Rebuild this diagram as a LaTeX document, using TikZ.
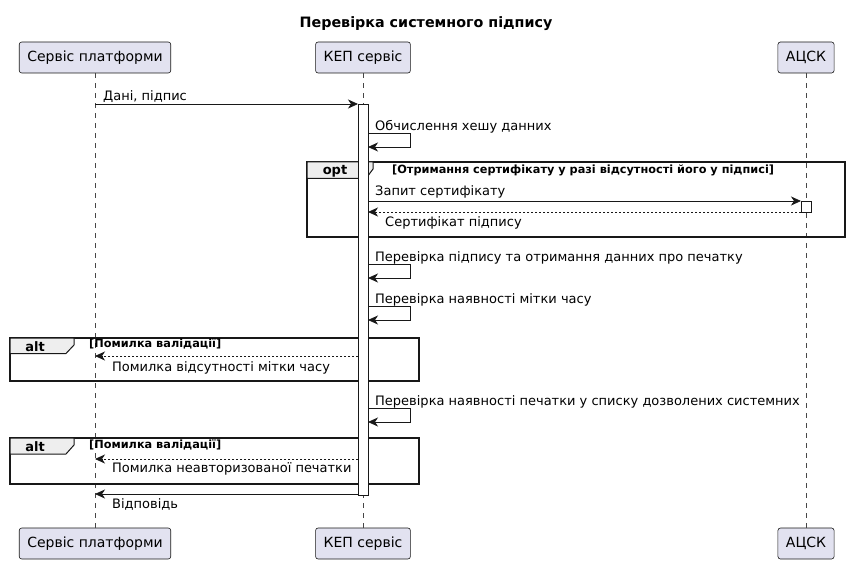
\documentclass[tikz,border=0pt]{standalone}
\usepackage{fontspec}
\setmainfont{DejaVu Sans}
\usepackage{tikz}
\usetikzlibrary{arrows.meta,shapes,positioning,calc}
\usepackage{xcolor}
\definecolor{umlpart}{RGB}{226,226,240}
\definecolor{umlline}{RGB}{24,24,24}
\definecolor{umlgroup}{RGB}{238,238,238}
\tikzstyle{participant} = [draw=umlline, fill=umlpart, rounded corners=2.5pt, minimum height=31pt, inner xsep=8pt, line width=0.6pt, font=\fontsize{14}{16}\selectfont]
\tikzstyle{msg} = [-{Stealth[length=10pt,width=9pt,inset=3pt]}, color=umlline, line width=0.8pt]
\tikzstyle{reply} = [msg, dash pattern=on 2pt off 2pt]
\tikzstyle{lifeline} = [umlline!80, dash pattern=on 5pt off 5pt, line width=0.5pt]
\tikzstyle{msgtext} = [anchor=west, inner sep=0pt, text height=10pt, text depth=3pt, font=\fontsize{13}{15}\selectfont]
\tikzstyle{frame} = [draw=umlline, line width=1.5pt]
\tikzstyle{tab} = [draw=umlline, fill=umlgroup, line width=1pt]
\tikzstyle{grouptext} = [anchor=west, inner sep=0pt, text height=8pt, text depth=2.5pt, font=\fontsize{11.3}{13}\selectfont\bfseries]
\tikzstyle{activation} = [draw=umlline, fill=white, line width=0.8pt]

\begin{document}
\begin{tikzpicture}[x=1pt, y=-1pt]
    \useasboundingbox (0,0) rectangle (848,564);

    % Title
    \node[font=\fontsize{14.3}{16}\selectfont\bfseries] (title) at (426,24) {Перевірка системного підпису};

    % Participants
    \node[participant] (pl-top) at (95,57.5) {Сервіс платформи};
    \node[participant] (kep-top) at (363,57.5) {КЕП сервіс};
    \node[participant] (acsk-top) at (806,57.5) {АЦСК};
    \node[participant] (pl-bot) at (95,543.5) {Сервіс платформи};
    \node[participant] (kep-bot) at (363,543.5) {КЕП сервіс};
    \node[participant] (acsk-bot) at (806,543.5) {АЦСК};

    % Lifelines
    \draw[lifeline] (pl-top.south) -- (pl-bot.north);
    \draw[lifeline] (kep-top.south) -- (kep-bot.north);
    \draw[lifeline] (acsk-top.south) -- (acsk-bot.north);

    % Groups
    \draw[frame] (307,162) rectangle (845,237);
    \draw[tab] (307,162) -- (373,162) -- (373,169) -- (366,178.5) -- (307,178.5) -- cycle;
    \node[font=\fontsize{13}{15}\selectfont\bfseries] (opt) at (335,171) {opt};
    \node[grouptext] (opt-guard) at (392,170.5) {[Отримання сертифікату у разі відсутності його у підписі]};

    \draw[frame] (10,338) rectangle (419,381);
    \draw[tab] (10,338) -- (74,338) -- (74,345) -- (66,353.5) -- (10,353.5) -- cycle;
    \node[font=\fontsize{13}{15}\selectfont\bfseries] (alt-1) at (35,346.5) {alt};
    \node[grouptext] (alt-1-guard) at (89,344.5) {[Помилка валідації]};

    \draw[frame] (10,438) rectangle (419,484);
    \draw[tab] (10,438) -- (74,438) -- (74,445) -- (66,454) -- (10,454) -- cycle;
    \node[font=\fontsize{13}{15}\selectfont\bfseries] (alt-2) at (35,447) {alt};
    \node[grouptext] (alt-2-guard) at (89,445.5) {[Помилка валідації]};

    % Activations
    \draw[activation] (358,104) rectangle (368,495);
    \draw[activation] (801,201) rectangle (811,212);

    % Points on lifelines
    \coordinate (m1-a) at (95,104);   \coordinate (m1-b) at (358,104);
    \coordinate (s1-a) at (368,133);  \coordinate (s1-b) at (368,147);
    \coordinate (m2-a) at (368,201);  \coordinate (m2-b) at (801,201);
    \coordinate (m3-a) at (801,212);  \coordinate (m3-b) at (368,212);
    \coordinate (s2-a) at (368,264);  \coordinate (s2-b) at (368,278);
    \coordinate (s3-a) at (368,306);  \coordinate (s3-b) at (368,320);
    \coordinate (m4-a) at (358,356);  \coordinate (m4-b) at (95,356);
    \coordinate (s4-a) at (368,408);  \coordinate (s4-b) at (368,422);
    \coordinate (m5-a) at (358,459);  \coordinate (m5-b) at (95,459);
    \coordinate (m6-a) at (358,494);  \coordinate (m6-b) at (95,494);

    % Messages
    \draw[msg] (m1-a) -- (m1-b);
    \node[msgtext] (t1) at (103,97) {Дані, підпис};

    \draw[msg] (s1-a) -- ++(42,0) |- (s1-b);
    \node[msgtext] (t2) at (375,127) {Обчислення хешу данних};

    \draw[msg] (m2-a) -- (m2-b);
    \node[msgtext] (t3) at (375,192) {Запит сертифікату};

    \draw[reply] (m3-a) -- (m3-b);
    \node[msgtext] (t4) at (385,223) {Сертифікат підпису};

    \draw[msg] (s2-a) -- ++(42,0) |- (s2-b);
    \node[msgtext] (t5) at (375,258) {Перевірка підпису та отримання данних про печатку};

    \draw[msg] (s3-a) -- ++(42,0) |- (s3-b);
    \node[msgtext] (t6) at (375,300) {Перевірка наявності мітки часу};

    \draw[reply] (m4-a) -- (m4-b);
    \node[msgtext] (t7) at (112,368) {Помилка відсутності мітки часу};

    \draw[msg] (s4-a) -- ++(42,0) |- (s4-b);
    \node[msgtext] (t8) at (375,402) {Перевірка наявності печатки у списку дозволених системних};

    \draw[reply] (m5-a) -- (m5-b);
    \node[msgtext] (t9) at (112,469) {Помилка неавторизованої печатки};

    \draw[msg] (m6-a) -- (m6-b);
    \node[msgtext] (t10) at (112,505) {Відповідь};
\end{tikzpicture}
\end{document}
